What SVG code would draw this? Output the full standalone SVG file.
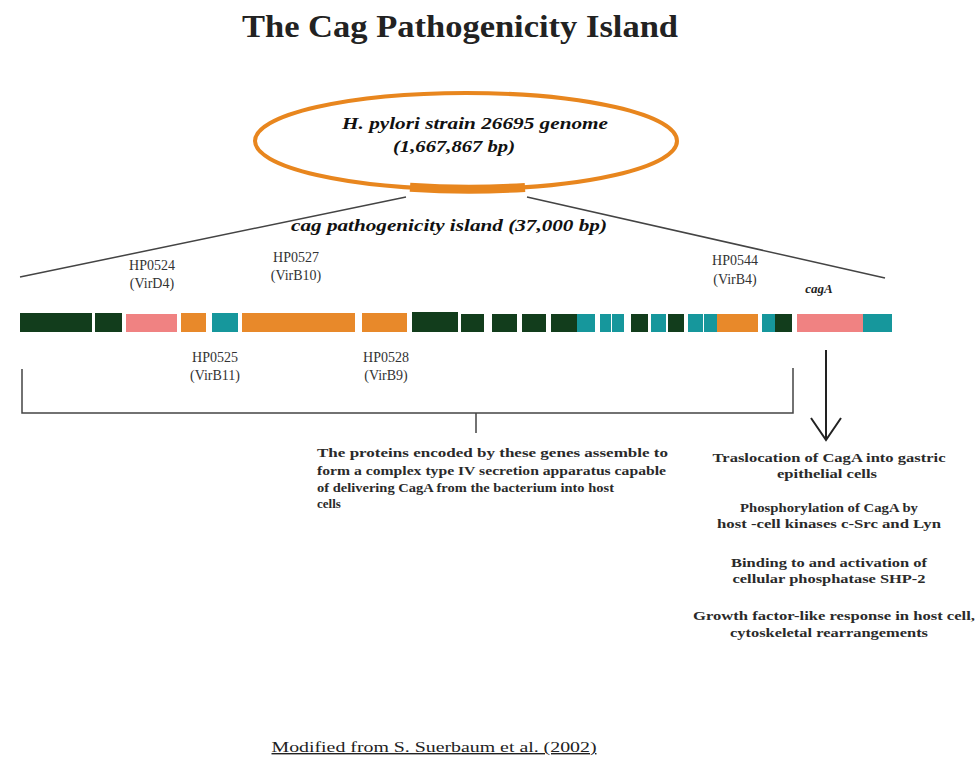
<svg xmlns="http://www.w3.org/2000/svg" width="975" height="776" viewBox="0 0 975 776">
<style>
.t{font-family:"Liberation Serif","Times New Roman",serif;fill:#222}
.lbl{font-size:14px;fill:#333}
.bi{font-weight:bold;font-style:italic;font-size:16px;fill:#111}
.para{font-size:13px;font-weight:bold;fill:#2a2a2a}
.dg{fill:#123d1c}
.pk{fill:#f08282}
.or{fill:#e8892a}
.tl{fill:#16979c}
.ln{stroke:#444;stroke-width:1.5;fill:none}
</style>
<rect width="975" height="776" fill="#fff"/>
<text class="t" x="242" y="37" font-size="32" font-weight="bold" fill="#111" textLength="436" lengthAdjust="spacingAndGlyphs">The Cag Pathogenicity Island</text>

<g id="genome">
<ellipse cx="466" cy="141" rx="211" ry="48" fill="none" stroke="#e8861e" stroke-width="4"/>
<path d="M410 187.2 A211 48 0 0 0 525 187.4" fill="none" stroke="#e8861e" stroke-width="9"/>
<text class="t bi" x="475" y="129" text-anchor="middle" textLength="266" lengthAdjust="spacingAndGlyphs">H. pylori  strain 26695 genome</text>
<text class="t bi" x="454" y="152" text-anchor="middle" textLength="122" lengthAdjust="spacingAndGlyphs">(1,667,867 bp)</text>
</g>

<g id="connectors">
<line class="ln" x1="406" y1="197" x2="20" y2="277"/>
<line class="ln" x1="527" y1="197" x2="885" y2="278"/>
<path class="ln" d="M22 369 V413 H793 V368 M476 413 V433"/>
<line x1="826" y1="350" x2="826" y2="438" stroke="#222" stroke-width="2"/>
<path d="M811 418 L826 440 L841 418" fill="none" stroke="#222" stroke-width="2"/>
</g>

<text class="t bi" x="449" y="231" text-anchor="middle" textLength="316" lengthAdjust="spacingAndGlyphs">cag pathogenicity island (37,000 bp)</text>

<g id="genes">
<rect class="dg" x="20" y="313" width="72" height="19"/>
<rect class="dg" x="95" y="313" width="27" height="19"/>
<rect class="pk" x="126" y="314" width="51" height="18"/>
<rect class="or" x="181" y="313" width="25" height="19"/>
<rect class="tl" x="212" y="313" width="26" height="19"/>
<rect class="or" x="242" y="313" width="113" height="19"/>
<rect class="or" x="362" y="313" width="45" height="19"/>
<rect class="dg" x="412" y="312" width="46" height="20"/>
<rect class="dg" x="461" y="314" width="23" height="18"/>
<rect class="dg" x="492" y="314" width="25" height="18"/>
<rect class="dg" x="522" y="314" width="24" height="18"/>
<rect class="dg" x="551" y="314" width="26" height="18"/>
<rect class="tl" x="577" y="314" width="18" height="18"/>
<rect class="tl" x="600" y="314" width="11" height="18"/>
<rect class="tl" x="612" y="314" width="12" height="18"/>
<rect class="dg" x="631" y="314" width="17" height="18"/>
<rect class="tl" x="651" y="314" width="15" height="18"/>
<rect class="dg" x="668" y="314" width="16" height="18"/>
<rect class="tl" x="688" y="314" width="15" height="18"/>
<rect class="tl" x="704" y="314" width="13" height="18"/>
<rect class="or" x="717" y="314" width="41" height="18"/>
<rect class="tl" x="762" y="314" width="13" height="18"/>
<rect class="dg" x="775" y="314" width="17" height="18"/>
<rect class="pk" x="797" y="314" width="66" height="18"/>
<rect class="tl" x="863" y="314" width="29" height="18"/>
</g>

<g id="labels">
<text class="t lbl" x="152" y="270" text-anchor="middle">HP0524</text>
<text class="t lbl" x="152" y="288" text-anchor="middle">(VirD4)</text>
<text class="t lbl" x="296" y="262" text-anchor="middle">HP0527</text>
<text class="t lbl" x="296" y="280" text-anchor="middle">(VirB10)</text>
<text class="t lbl" x="215" y="362" text-anchor="middle">HP0525</text>
<text class="t lbl" x="215" y="380" text-anchor="middle">(VirB11)</text>
<text class="t lbl" x="386" y="362" text-anchor="middle">HP0528</text>
<text class="t lbl" x="386" y="380" text-anchor="middle">(VirB9)</text>
<text class="t lbl" x="735" y="265" text-anchor="middle">HP0544</text>
<text class="t lbl" x="735" y="284" text-anchor="middle">(VirB4)</text>
<text class="t" x="819" y="293" text-anchor="middle" font-size="13" font-weight="bold" font-style="italic" fill="#222">cagA</text>
</g>

<g id="secretion-text">
<text class="t para" x="317" y="457" textLength="351" lengthAdjust="spacingAndGlyphs">The proteins encoded by these genes assemble to</text>
<text class="t para" x="317" y="475" textLength="349" lengthAdjust="spacingAndGlyphs">form a complex type IV secretion apparatus capable</text>
<text class="t para" x="317" y="492" textLength="297" lengthAdjust="spacingAndGlyphs">of delivering CagA from the bacterium into host</text>
<text class="t para" x="317" y="508">cells</text>
</g>

<g id="effects">
<text class="t para" x="829" y="462" text-anchor="middle" textLength="233" lengthAdjust="spacingAndGlyphs">Traslocation of CagA into gastric</text>
<text class="t para" x="827" y="478" text-anchor="middle" textLength="100" lengthAdjust="spacingAndGlyphs">epithelial cells</text>
<text class="t para" x="829" y="512" text-anchor="middle" textLength="178" lengthAdjust="spacingAndGlyphs">Phosphorylation of CagA by</text>
<text class="t para" x="829" y="528" text-anchor="middle" textLength="224" lengthAdjust="spacingAndGlyphs">host -cell kinases c-Src and Lyn</text>
<text class="t para" x="829" y="567" text-anchor="middle" textLength="196" lengthAdjust="spacingAndGlyphs">Binding to and activation of</text>
<text class="t para" x="829" y="583" text-anchor="middle" textLength="193" lengthAdjust="spacingAndGlyphs">cellular phosphatase SHP-2</text>
<text class="t para" x="834" y="620" text-anchor="middle" textLength="282" lengthAdjust="spacingAndGlyphs">Growth factor-like response in host cell,</text>
<text class="t para" x="829" y="637" text-anchor="middle" textLength="198" lengthAdjust="spacingAndGlyphs">cytoskeletal rearrangements</text>
</g>

<text class="t" x="434" y="752" text-anchor="middle" font-size="14" fill="#333" text-decoration="underline" textLength="325" lengthAdjust="spacingAndGlyphs">Modified from S. Suerbaum et al. (2002)</text>
</svg>
